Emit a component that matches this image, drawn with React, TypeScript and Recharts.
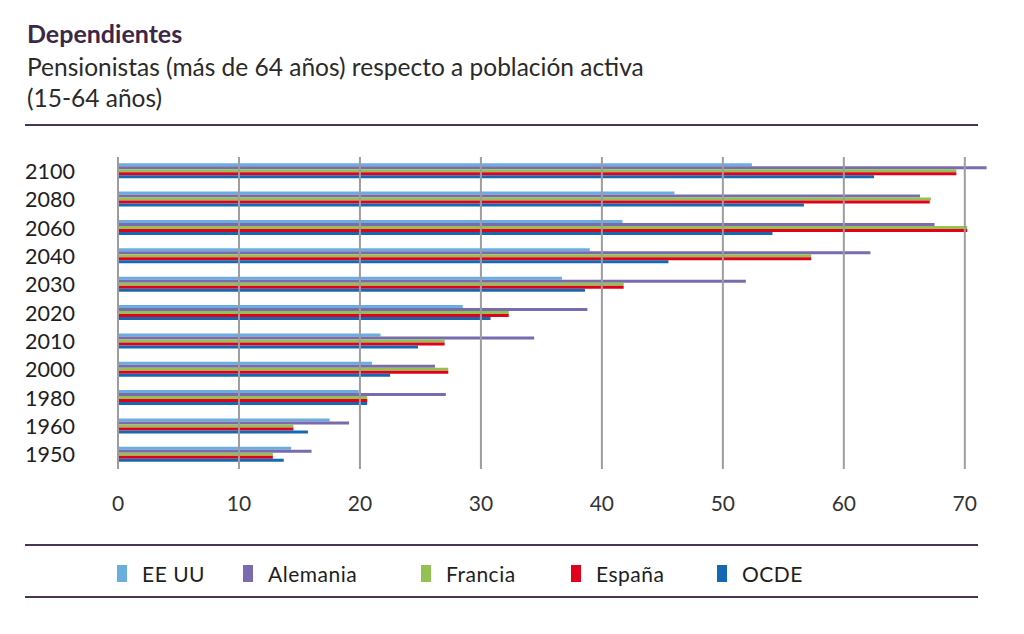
import React from 'react'
import { BarChart, Bar, XAxis, YAxis, ReferenceLine } from 'recharts'

const years = ['2100', '2080', '2060', '2040', '2030', '2020', '2010', '2000', '1980', '1960', '1950']
const eeuu = [52.4, 46.0, 41.7, 39.0, 36.7, 28.5, 21.7, 21.0, 19.9, 17.5, 14.3]
const alemania = [71.8, 66.3, 67.5, 62.2, 51.9, 38.8, 34.4, 26.2, 27.1, 19.1, 16.0]
const francia = [69.3, 67.2, 70.2, 57.3, 41.8, 32.3, 27.0, 27.3, 20.6, 14.5, 12.8]
const espana = [69.3, 67.1, 70.2, 57.3, 41.8, 32.3, 27.0, 27.3, 20.6, 14.5, 12.8]
const ocde = [62.5, 56.7, 54.1, 45.5, 38.6, 30.8, 24.8, 22.5, 20.6, 15.7, 13.7]
const xTicks = [0, 10, 20, 30, 40, 50, 60, 70]

const series = [
  { key: 'eeuu', label: 'EE UU', color: '#6aaee0' },
  { key: 'alemania', label: 'Alemania', color: '#7a6aae' },
  { key: 'francia', label: 'Francia', color: '#93c152' },
  { key: 'espana', label: 'España', color: '#e2001a' },
  { key: 'ocde', label: 'OCDE', color: '#1768b2' },
]

const data = years.map((year, i) => ({
  year,
  eeuu: eeuu[i],
  alemania: alemania[i],
  francia: francia[i],
  espana: espana[i],
  ocde: ocde[i],
}))

const legendX = [117, 243, 421, 571, 717]
const ruleColor = '#4a3654'
const font = 'Lato, "Open Sans", sans-serif'

export default function App() {
  return (
    <div style={{ position: 'relative', width: 1024, height: 634, background: '#fff', fontFamily: font, overflow: 'hidden' }}>
      <style>{'body{margin:0}'}</style>
      <div style={{ position: 'absolute', left: 27, top: 19, fontSize: 25, fontWeight: 700, color: '#3b2748', lineHeight: '28px' }}>
        Dependientes
      </div>
      <div style={{ position: 'absolute', left: 27, top: 51, fontSize: 24.5, color: '#2a2a2a', lineHeight: '31px' }}>
        Pensionistas (más de 64 años) respecto a población activa
        <br />
        (15-64 años)
      </div>
      <div style={{ position: 'absolute', left: 25, top: 124, width: 953, height: 2, background: ruleColor }} />

      <div style={{ position: 'absolute', left: 0, top: 0 }}>
        <BarChart
          width={1024}
          height={634}
          data={data}
          layout="vertical"
          margin={{ top: 157, right: 35, bottom: 125, left: 0 }}
          barCategoryGap={6.2}
          barGap={0}
        >
          {/* vertical gridlines only at the labelled ticks */}
          {xTicks.map((t) => (
            <ReferenceLine key={t} x={t} stroke="#9d9d9d" strokeWidth={2} />
          ))}
          <XAxis
            type="number"
            domain={[0, 72]}
            ticks={xTicks}
            axisLine={false}
            tickLine={false}
            tickSize={0}
            tickMargin={27}
            height={40}
            tick={{ fill: '#333', fontSize: 21, fontFamily: font }}
          />
          <YAxis
            type="category"
            dataKey="year"
            width={118}
            interval={0}
            axisLine={false}
            tickLine={false}
            tickSize={0}
            tickMargin={43}
            tick={{ fill: '#1e1e1e', fontSize: 21.5, fontFamily: font }}
          />
          {series.map((s) => (
            <Bar key={s.key} dataKey={s.key} fill={s.color} isAnimationActive={false} name={s.label} />
          ))}
        </BarChart>
      </div>

      <div style={{ position: 'absolute', left: 25, top: 544, width: 953, height: 2, background: ruleColor }} />
      {series.map((s, i) => (
        <div key={s.key} style={{ position: 'absolute', left: legendX[i], top: 562, height: 22, display: 'flex', alignItems: 'center' }}>
          <div style={{ width: 10, height: 17, background: s.color }} />
          <span style={{ marginLeft: 15, fontSize: 21, color: '#1e1e1e', letterSpacing: 0.5 }}>{s.label}</span>
        </div>
      ))}
      <div style={{ position: 'absolute', left: 25, top: 596, width: 953, height: 2, background: ruleColor }} />
    </div>
  )
}
